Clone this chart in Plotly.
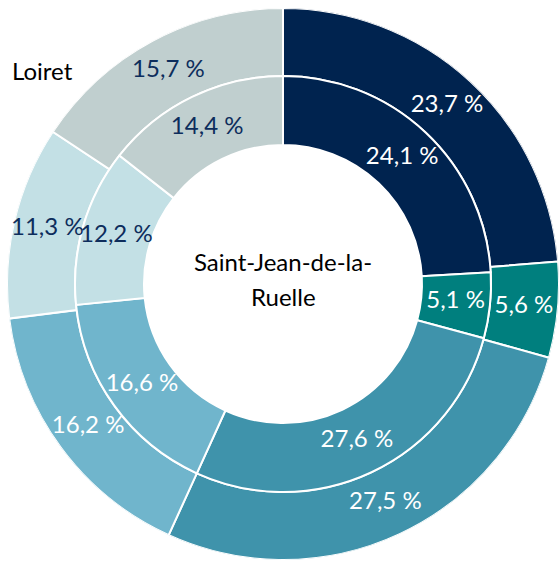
import plotly.graph_objects as go

categories = ["Cat 1", "Cat 2", "Cat 3", "Cat 4", "Cat 5", "Cat 6"]
loiret_values = [23.7, 5.6, 27.5, 16.2, 11.3, 15.7]
sjr_values = [24.1, 5.1, 27.6, 16.6, 12.2, 14.4]
outer_label = "Loiret"
center_label = "Saint-Jean-de-la-<br>Ruelle"

colors = ["#00234f", "#007f7e", "#3f93ab", "#70b5cc", "#c3e0e5", "#c0cfcf"]
text_colors = ["white", "white", "white", "white", "#0d2d5c", "#0d2d5c"]

def fmt(v):
    return f"{v:.1f} %".replace(".", ",")

W, H = 559, 562
cx, cy = 283, 284
R_out, R_mid, R_hole = 276, 208, 139
cy_p = H - cy
FONT = "Lato"
FS = 24


def ring_geometry(values):
    total = sum(values)
    mids, widths, acc = [], [], 0.0
    for v in values:
        widths.append(v / total * 360)
        mids.append((acc + v / 2) / total * 360)
        acc += v
    return mids, widths


fig = go.Figure()
rings = [(loiret_values, R_mid, R_out), (sjr_values, R_hole, R_mid)]
for vals, r0, r1 in rings:
    mids, widths = ring_geometry(vals)
    fig.add_trace(go.Barpolar(
        theta=mids, width=widths, r=[r1 - r0] * len(vals), base=[r0] * len(vals),
        marker=dict(color=colors, line=dict(color="white", width=2)),
        customdata=categories, hovertext=[fmt(v) for v in vals],
        hoverinfo="text", showlegend=False,
    ))
for vals, r0, r1 in rings:
    mids, widths = ring_geometry(vals)
    fig.add_trace(go.Scatterpolar(
        theta=mids, r=[(r0 + r1) / 2] * len(vals), mode="text",
        text=[fmt(v) for v in vals],
        textfont=dict(family=FONT, size=FS, color=text_colors),
        hoverinfo="skip", showlegend=False,
    ))

fig.add_annotation(text=outer_label, x=10 / W, y=1 - 70 / H, xref="paper", yref="paper",
                   xanchor="left", yanchor="middle", showarrow=False,
                   font=dict(family=FONT, size=FS, color="black"))
center_lines = center_label.split("<br>")
for i, line in enumerate(center_lines):
    y_px = cy - 23 + 35 * i
    fig.add_annotation(text=line, x=cx / W, y=1 - y_px / H, xref="paper", yref="paper",
                       xanchor="center", yanchor="middle", showarrow=False,
                       font=dict(family=FONT, size=FS, color="black"))

fig.update_layout(
    width=W, height=H, margin=dict(l=0, r=0, t=0, b=0),
    paper_bgcolor="white", plot_bgcolor="white",
    polar=dict(
        domain=dict(x=[(cx - R_out) / W, min(1, (cx + R_out) / W)],
                    y=[(cy_p - R_out) / H, (cy_p + R_out) / H]),
        bgcolor="rgba(0,0,0,0)",
        radialaxis=dict(range=[0, R_out], visible=False, showgrid=False),
        angularaxis=dict(rotation=90, direction="clockwise", visible=False, showgrid=False),
    ),
)
fig.write_html("out.html", config={"displayModeBar": False},
               post_script="document.body.style.margin='0';document.body.style.overflow='hidden';")
